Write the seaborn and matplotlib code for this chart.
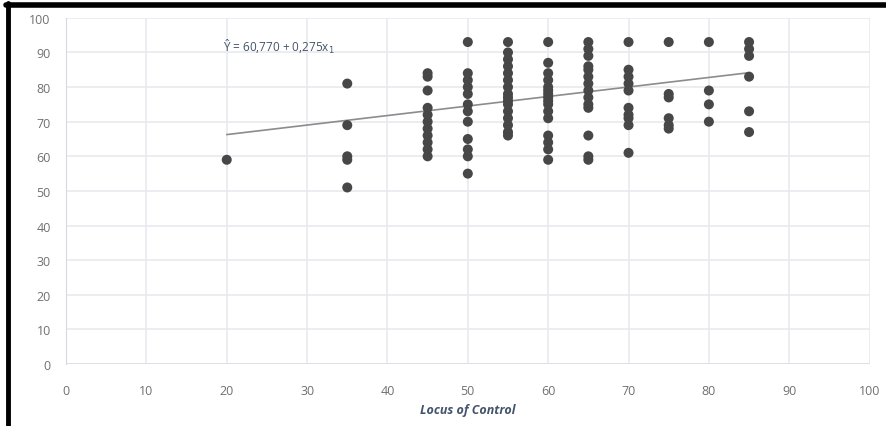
import numpy as np
import pandas as pd
import matplotlib
matplotlib.use("Agg")
import matplotlib.pyplot as plt
import seaborn as sns
from matplotlib.lines import Line2D

# Locus of Control levels and the scores read at each level
locus_levels = [20, 35, 45, 50, 55, 60, 65, 70, 75, 80, 85]
scores_by_level = [
    [59],
    [81, 69, 60, 59, 51],
    [84, 83, 79, 74, 72, 70, 68, 66, 64, 62, 60],
    [93, 84, 82, 80, 78, 75, 73, 70, 65, 62, 60, 55],
    [93, 90, 88, 86, 84, 82, 80, 78, 77, 76, 75, 73, 71, 69, 67, 66],
    [93, 87, 84, 82, 80, 79, 78, 77, 76, 75, 73, 71, 66, 64, 62, 59],
    [93, 91, 89, 86, 85, 83, 81, 79, 77, 75, 74, 66, 60, 59],
    [93, 85, 83, 81, 79, 74, 72, 71, 69, 61],
    [93, 78, 77, 71, 69, 68],
    [93, 79, 75, 70],
    [93, 91, 89, 83, 73, 67],
]

# regression line from the printed equation
intercept = 60.770
slope = 0.275
equation_label = "Ŷ = 60,770 + 0,275x$_1$"

x_ticks = list(range(0, 101, 10))
y_ticks = list(range(0, 101, 10))

rows = []
for lvl, scores in zip(locus_levels, scores_by_level):
    for s in scores:
        rows.append({"locus": lvl, "score": s})
df = pd.DataFrame(rows)

sns.set_style("whitegrid")
plt.rcParams["font.family"] = ["Open Sans", "DejaVu Sans"]

fig = plt.figure(figsize=(8.86, 4.27), dpi=100)
ax = fig.add_axes([0.0745, 0.145, 0.907, 0.811])

sns.scatterplot(data=df, x="locus", y="score", ax=ax, color="#474747",
                s=52, edgecolor="none", zorder=3)

line_x = np.array([min(locus_levels), max(locus_levels)])
ax.plot(line_x, intercept + slope * line_x, color="#8c8c8c", lw=1.2, zorder=2)

ax.text(19.5, 92, equation_label, color="#44546a", fontsize=8.5,
        va="center", ha="left")

ax.set_xlim(0, 100)
ax.set_ylim(0, 100)
ax.set_xticks(x_ticks)
ax.set_yticks(y_ticks)
ax.grid(True, color="#e8eaef", lw=1.2)
for side in ["top", "right", "bottom"]:
    ax.spines[side].set_visible(False)
ax.spines["left"].set_color("#d5d9e2")
ax.axhline(0, color="#dadde4", lw=1.2, zorder=1)
ax.tick_params(axis="x", pad=14, labelsize=9, labelcolor="#707070", length=0)
ax.tick_params(axis="y", pad=11, labelsize=9, labelcolor="#707070", length=0)
ax.set_xlabel("Locus of Control", fontsize=9, style="italic", fontweight="bold",
              color="#44546a", labelpad=5)
ax.set_ylabel("")

# black frame on the left and top of the screenshot
fig.add_artist(Line2D([8 / 886, 8 / 886], [0, 1 - 4 / 427], color="black",
                      lw=3.5, transform=fig.transFigure))
fig.add_artist(Line2D([6 / 886, 1], [1 - 6 / 427, 1 - 6 / 427], color="black",
                      lw=4, transform=fig.transFigure))

fig.savefig("out.png", dpi=100, facecolor="white")
plt.close(fig)
